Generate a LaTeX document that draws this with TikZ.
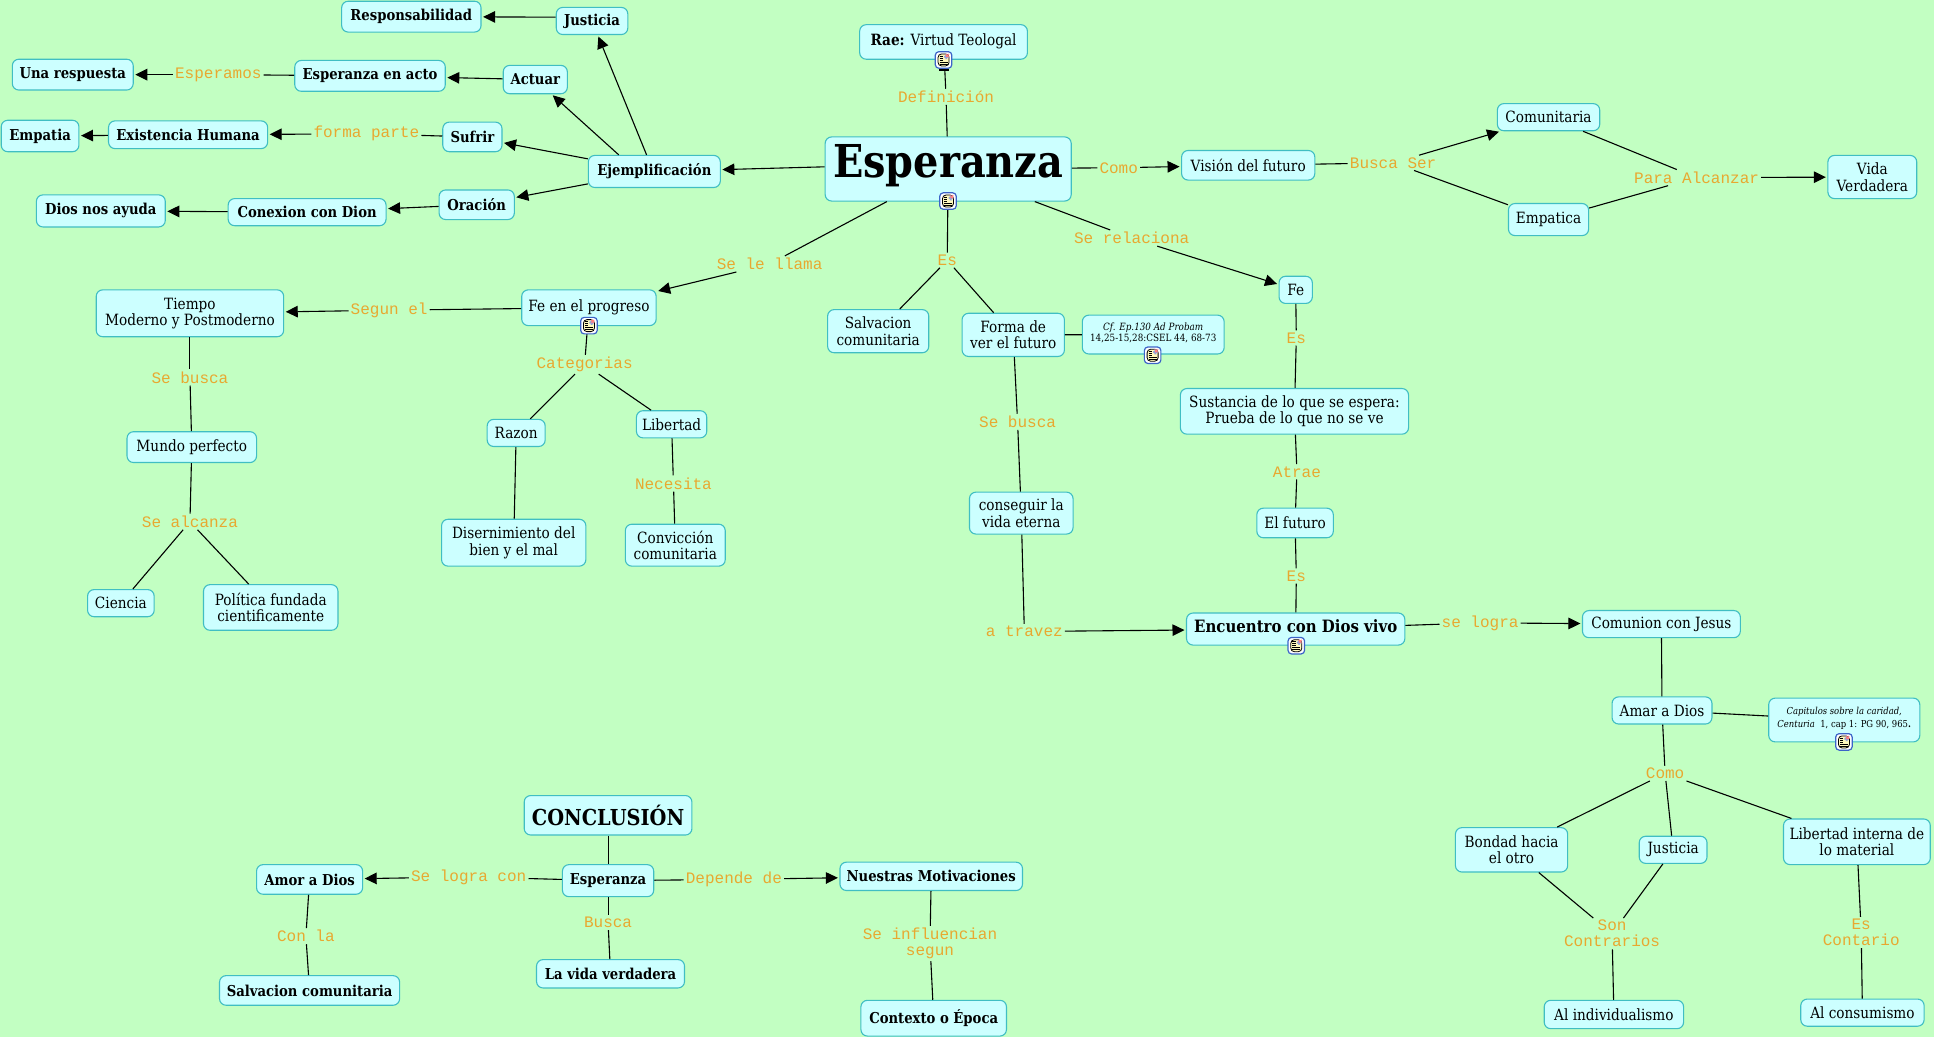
\documentclass[tikz,border=0pt]{standalone}
\usepackage{fontspec}
\usetikzlibrary{arrows.meta}
\setmainfont[FakeStretch=0.88]{DejaVu Serif}
\newfontfamily\lblfont{Liberation Mono}
\definecolor{bgc}{RGB}{194,255,194}
\definecolor{boxc}{RGB}{204,255,255}
\definecolor{edgec}{RGB}{64,190,195}
\definecolor{lblc}{RGB}{232,168,48}
\definecolor{iconb}{RGB}{60,100,200}
\definecolor{iconp}{RGB}{255,250,190}
\newcommand\upby[1]{\\[#1]\mbox{}}
\newcommand\nd[6][]{\node[box,#1,minimum width={(#4-#2)*1.2334pt},minimum height={(#5-#3)*1.2334pt}] (#6) at ({(#2+#4)/2},{(#3+#5)/2})}
\newcommand\lb[3]{\node[lbl] (#1) at (#2,#3)}
\tikzset{
  box/.style={draw=edgec,fill=boxc,line width=1.1pt,rounded corners=6.5pt,inner sep=0pt,align=center,text=black,font=\fontsize{15.5}{16.5}\selectfont},
  bd/.style={font=\fontsize{15}{16.5}\selectfont\bfseries},
  lbl/.style={inner sep=2pt,align=center,text=lblc,font=\fontsize{16}{16}\selectfont\lblfont},
  ln/.style={draw=black,line width=1.1pt},
  arr/.style={ln,-{Triangle[length=12pt,width=11.5pt]},shorten >=1.5pt},
  iconbox/.style={draw=iconb,fill=white,line width=1.2pt,rounded corners=3.5pt,minimum size=16.5pt,inner sep=0pt,
    path picture={\begin{scope}[shift={(path picture bounding box.center)}]
      \fill[iconp] (-5.5pt,-6pt) rectangle (5.5pt,6pt);
      \draw[black,line width=.8pt] (-5.5pt,-6pt) rectangle (5.5pt,6pt);
      \fill[iconb!60] (0.5pt,0.8pt) rectangle (5pt,5.5pt);
      \fill[red!50] (2.5pt,3pt) rectangle (5pt,5.5pt);
      \draw[black,line width=.8pt] (-4pt,4pt) -- (-0.6pt,4pt) (-4pt,2pt) -- (-0.6pt,2pt) (-4pt,0pt) -- (-0.6pt,0pt) (-4pt,-2pt) -- (4pt,-2pt) (-4pt,-4pt) -- (4pt,-4pt);
    \end{scope}}}
}
\begin{document}
\begin{tikzpicture}[x=1.2334pt,y=-1.2334pt]
\fill[bgc] (0pt,0pt) rectangle (1934pt,-1037pt);
\useasboundingbox (0pt,0pt) rectangle (1934pt,-1037pt);
% nodes
\nd[bd]{277}{1}{390}{26}{resp}{Responsabilidad};
\nd[bd]{451}{6}{509}{28}{just}{Justicia};
\nd{697}{20}{833}{48}{rae}{\textbf{Rae:} Virtud Teologal\upby{-12pt}};
\nd[bd]{408}{53}{460}{76}{actuar}{Actuar};
\nd[bd]{10}{48}{108}{73}{unar}{Una respuesta};
\nd[bd]{239}{49}{361}{74}{enacto}{Esperanza en acto};
\nd[bd]{1}{97.5}{64}{123}{empatia}{Empatia};
\nd[bd]{88}{98}{217}{120.5}{exist}{Existencia Humana};
\nd[bd]{359}{99}{407}{123}{sufrir}{Sufrir};
\nd[bd]{29.5}{158}{134}{184}{dios}{Dios nos ayuda};
\nd[bd]{185}{161}{313}{183}{conex}{Conexion con Dion};
\nd[bd]{356}{154}{417}{178}{oracion}{Oración};
\nd[bd]{477}{126}{584}{152}{ejem}{Ejemplificación};
\nd[font=\fontsize{45.3}{52}\selectfont\bfseries]{669}{111}{868.5}{163}{esp}{Esperanza\upby{-37pt}};
\nd{958}{122}{1066}{146}{vision}{Visión del futuro};
\nd{1214}{84}{1297}{106}{comu}{Comunitaria};
\nd{1223}{165}{1288}{191}{empc}{Empatica};
\nd{1482}{126}{1554}{161}{vida}{Vida\\Verdadera};
\nd{1037}{224}{1064}{246}{fe}{Fe};
\nd{423}{235}{532}{264}{feprog}{Fe en el progreso\upby{-12pt}};
\nd{78}{235}{230}{273}{tiempo}{Tiempo\\Moderno y Postmoderno};
\nd{103}{350}{208}{375}{mundo}{Mundo perfecto};
\nd{71}{478}{125}{500}{ciencia}{Ciencia};
\nd{165}{474}{274}{511}{politica}{Política fundada\\cientificamente};
\nd{395}{340}{442}{362}{razon}{Razon};
\nd{516}{333}{573}{355}{libertad}{Libertad};
\nd{358}{421}{475}{459}{diser}{Disernimiento del\\bien y el mal};
\nd{507}{425}{588}{459}{convic}{Convicción\\comunitaria};
\nd{671}{251}{753}{286}{salvc}{Salvacion\\comunitaria};
\nd{780}{254}{863}{289}{forma}{Forma de\\ver el futuro};
\nd[font=\fontsize{10}{11.5}\selectfont]{877.5}{255.5}{992.5}{287}{cf}{\textit{Cf. Ep.130 Ad Probam}\\14,25-15,28:CSEL 44, 68-73\upby{-7pt}};
\nd{957}{315}{1142}{352}{sust}{Sustancia de lo que se espera:\\Prueba de lo que no se ve};
\nd{1019}{412}{1081}{436}{elfut}{El futuro};
\nd{786}{399}{870}{433}{consg}{conseguir la\\vida eterna};
\nd[font=\fontsize{17}{19}\selectfont\bfseries]{962}{497}{1139}{523}{encu}{Encuentro con Dios vivo\upby{-13pt}};
\nd{1283}{495}{1411}{517}{comun}{Comunion con Jesus};
\nd{1307}{565}{1388}{587}{amar}{Amar a Dios};
\nd[font=\fontsize{9.6}{13}\selectfont]{1434}{566}{1556.5}{601.5}{capit}{\textit{Capitulos sobre la caridad,}\\\textit{Centuria}\ \ 1, cap 1: PG 90, 965\textbf{.}\upby{-8pt}};
\nd{1180}{671}{1271}{707}{bondad}{Bondad hacia\\el otro};
\nd{1329}{678}{1384}{700}{just2}{Justicia};
\nd{1446}{664}{1565}{701}{libint}{Libertad interna de\\lo material};
\nd{1252}{811}{1365}{834}{indiv}{Al individualismo};
\nd{1460}{810}{1560}{832}{consu}{Al consumismo};
\nd[font=\fontsize{22}{24}\selectfont\bfseries]{425}{645}{561}{677}{concl}{CONCLUSIÓN};
\nd[bd]{456}{701}{530}{727}{esp2}{Esperanza};
\nd[bd]{208}{701}{294}{725}{amor}{Amor a Dios};
\nd[bd]{681}{699}{829}{722}{nuestras}{Nuestras Motivaciones};
\nd[bd]{178}{791}{324}{815}{salvb}{Salvacion comunitaria};
\nd[bd]{435}{778}{555}{801}{lavida}{La vida verdadera};
\nd[bd]{698}{811}{816}{840}{contexto}{Contexto o Época};
% labels
\lb{ldef}{767}{78.5}{Definición};
\lb{lcomo}{907}{136}{Como};
\lb{lbusca}{1129.5}{132}{Busca Ser};
\lb{lpara}{1375.5}{144}{Para Alcanzar};
\lb{lserel}{917.5}{193}{Se relaciona};
\lb{les}{768}{211}{Es};
\lb{lllama}{624}{214}{Se le llama};
\lb{lcat}{474}{295.5}{Categorias};
\lb{lseg}{315.5}{251.5}{Segun el};
\lb{lsb}{154}{306}{Se busca};
\lb{lsa}{154}{423}{Se alcanza};
\lb{lnec}{546}{392}{Necesita};
\lb{lsb2}{825}{342}{Se busca};
\lb{ltra}{830.5}{512}{a travez};
\lb{les2}{1051}{274}{Es};
\lb{latr}{1051.5}{382.5}{Atrae};
\lb{les3}{1051}{467}{Es};
\lb{lsel}{1200}{505}{se logra};
\lb{lcom2}{1350}{627}{Como};
\lb{lson}{1307}{757}{Son\\Contrarios};
\lb{lesc}{1509}{756}{Es\\Contario};
\lb{lslc}{380}{711}{Se logra con};
\lb{ldep}{595}{713}{Depende de};
\lb{lbus}{493}{748}{Busca};
\lb{lcon}{248}{759}{Con la};
\lb{linf}{754}{765}{Se influencian\\segun};
\lb{lesp}{177}{60.5}{Esperamos};
\lb{lfor}{297}{108.5}{forma parte};
% connectors
\draw[ln] (rae) -- (ldef); \draw[ln] (ldef) -- (esp);
\draw[ln] (esp) -- (lcomo); \draw[arr] (lcomo) -- (vision);
\draw[ln] (vision) -- (lbusca); \draw[arr] (lbusca) -- (comu); \draw[ln] (lbusca) -- (empc);
\draw[ln] (comu) -- (lpara); \draw[ln] (empc) -- (lpara); \draw[arr] (lpara) -- (vida);
\draw[ln] (esp) -- (lserel); \draw[arr] (lserel) -- (fe);
\draw[ln] (fe) -- (les2); \draw[ln] (les2) -- (sust); \draw[ln] (sust) -- (latr); \draw[ln] (latr) -- (elfut);
\draw[ln] (elfut) -- (les3); \draw[ln] (les3) -- (encu);
\draw[ln] (encu) -- (lsel); \draw[arr] (lsel) -- (comun);
\draw[ln] (comun) -- (amar); \draw[ln] (amar) -- (capit); \draw[ln] (amar) -- (lcom2);
\draw[ln] (lcom2) -- (bondad); \draw[ln] (lcom2) -- (just2); \draw[ln] (lcom2) -- (libint);
\draw[ln] (bondad) -- (lson); \draw[ln] (just2) -- (lson); \draw[ln] (lson) -- (indiv);
\draw[ln] (libint) -- (lesc); \draw[ln] (lesc) -- (consu);
\draw[ln] (esp) -- (les); \draw[ln] (les) -- (salvc); \draw[ln] (les) -- (forma);
\draw[ln] (forma) -- (cf); \draw[ln] (forma) -- (lsb2); \draw[ln] (lsb2) -- (consg);
\draw[ln] (consg) -- (ltra); \draw[arr] (ltra) -- (encu);
\draw[ln] (esp) -- (lllama); \draw[arr] (lllama) -- (feprog);
\draw[ln] (feprog) -- (lseg); \draw[arr] (lseg) -- (tiempo);
\draw[ln] (tiempo) -- (lsb); \draw[ln] (lsb) -- (mundo); \draw[ln] (mundo) -- (lsa);
\draw[ln] (lsa) -- (ciencia); \draw[ln] (lsa) -- (politica);
\draw[ln] (feprog) -- (lcat); \draw[ln] (lcat) -- (razon); \draw[ln] (lcat) -- (libertad);
\draw[ln] (razon) -- (diser); \draw[ln] (libertad) -- (lnec); \draw[ln] (lnec) -- (convic);
\draw[arr] (esp.179) -- (ejem);
\draw[arr] (ejem.115) -- (just); \draw[arr] (ejem.155) -- (actuar); \draw[arr] (ejem) -- (sufrir); \draw[arr] (ejem) -- (oracion);
\draw[arr] (just.174) -- (resp);
\draw[arr] (actuar) -- (enacto); \draw[ln] (enacto) -- (lesp); \draw[arr] (lesp) -- (unar);
\draw[ln] (sufrir) -- (lfor); \draw[arr] (lfor) -- (exist); \draw[arr] (exist) -- (empatia);
\draw[arr] (oracion) -- (conex); \draw[arr] (conex) -- (dios);
\draw[ln] (concl) -- (esp2);
\draw[ln] (esp2) -- (lslc); \draw[arr] (lslc) -- (amor);
\draw[ln] (amor) -- (lcon); \draw[ln] (lcon) -- (salvb);
\draw[ln] (esp2) -- (lbus); \draw[ln] (lbus) -- (lavida);
\draw[ln] (esp2) -- (ldep); \draw[arr] (ldep) -- (nuestras);
\draw[ln] (nuestras) -- (linf); \draw[ln] (linf) -- (contexto);
% note icons
\node[iconbox] (i1) at (765,48.6) {};
\node[iconbox] (i2) at (768.6,163) {};
\node[iconbox] (i3) at (477.5,264) {};
\node[iconbox] (i4) at (934.5,288) {};
\node[iconbox] (i5) at (1051,523.5) {};
\node[iconbox] (i6) at (1495,601.5) {};
\fill[black] ([xshift=-5pt]i1.south) rectangle ([xshift=5pt,yshift=-2pt]i1.south);
\end{tikzpicture}
\end{document}
